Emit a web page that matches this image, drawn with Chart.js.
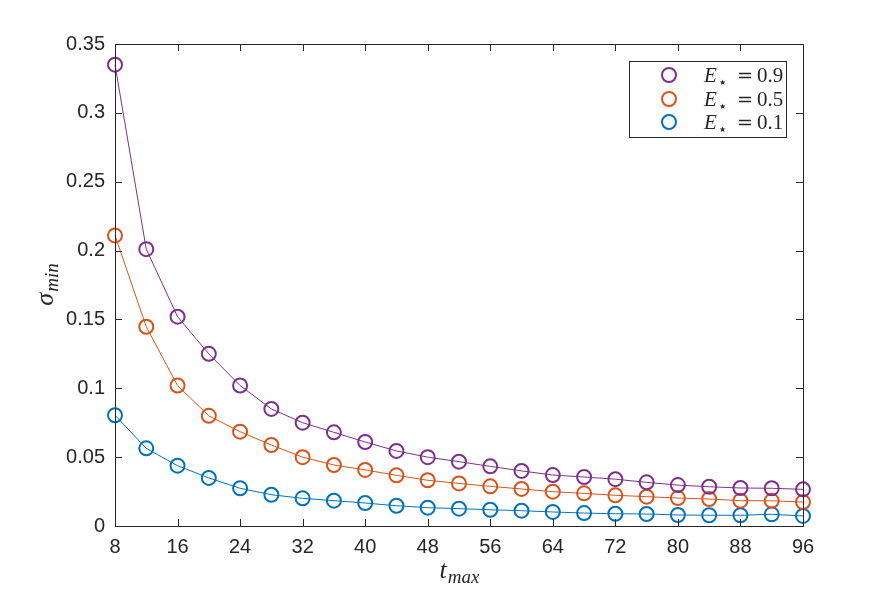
<!DOCTYPE html>
<html>
<head>
<meta charset="utf-8">
<script src="https://cdn.jsdelivr.net/npm/chart.js@4.4.0/dist/chart.umd.min.js"></script>
<style>
body { margin: 0; background: #fff; }
#wrap { width: 886px; height: 590px; }
</style>
</head>
<body>
<div id="wrap"><canvas id="sigmaChart" width="886" height="590"></canvas></div>
<script>
// t_max values on the x axis
var tmax = [8, 12, 16, 20, 24, 28, 32, 36, 40, 44, 48, 52, 56, 60, 64, 68, 72, 76, 80, 84, 88, 92, 96];

// sigma_min for each E_star
var sigmaE09 = [0.335, 0.201, 0.152, 0.125, 0.102, 0.085, 0.075, 0.068, 0.061, 0.0545, 0.050, 0.0467,
  0.0433, 0.040, 0.037, 0.0356, 0.034, 0.0317, 0.0297, 0.0285, 0.0276, 0.0274, 0.0266];
var sigmaE05 = [0.211, 0.1447, 0.102, 0.080, 0.0685, 0.0588, 0.050, 0.0443, 0.0407, 0.0368, 0.0332, 0.0309,
  0.0288, 0.0269, 0.0249, 0.0237, 0.0223, 0.0213, 0.0203, 0.0196, 0.0184, 0.0183, 0.0174];
var sigmaE01 = [0.0804, 0.0564, 0.0438, 0.0349, 0.0274, 0.0227, 0.0201, 0.0184, 0.0167, 0.0147, 0.0133, 0.0126,
  0.0118, 0.0111, 0.0102, 0.0094, 0.0089, 0.0087, 0.0080, 0.0078, 0.0078, 0.0085, 0.0073];

var estarLabels = ['0.9', '0.5', '0.1'];
var xTicks = [8, 16, 24, 32, 40, 48, 56, 64, 72, 80, 88, 96];
var yTicks = [0, 0.05, 0.1, 0.15, 0.2, 0.25, 0.3, 0.35];

// matlab colours
var colors = ['#7E2F8E', '#D95319', '#0072BD'];
var axisColor = '#262626';
var serif = '"Liberation Serif", "DejaVu Serif", serif';

function toPoints(xs, ys) {
  return xs.map(function (x, i) { return { x: x, y: ys[i] }; });
}

function makeDataset(label, values, color) {
  return {
    label: label,
    data: toPoints(tmax, values),
    borderColor: color,
    backgroundColor: 'rgba(0,0,0,0)',
    borderWidth: 1,
    pointRadius: 7,
    pointBorderWidth: 2,
    pointBorderColor: color,
    pointBackgroundColor: 'rgba(0,0,0,0)',
    tension: 0,
    clip: false
  };
}

// box around the axes, inward ticks, axis titles and legend
var matlabLook = {
  id: 'matlabLook',
  afterDraw: function (chart) {
    var ctx = chart.ctx;
    var a = chart.chartArea;
    var xs = chart.scales.x, ys = chart.scales.y;
    var tl = 7;
    ctx.save();
    ctx.strokeStyle = axisColor;
    ctx.lineWidth = 1;
    ctx.strokeRect(a.left + 0.5, a.top + 0.5, a.right - a.left, a.bottom - a.top);
    ctx.beginPath();
    xTicks.forEach(function (v) {
      var px = Math.round(xs.getPixelForValue(v)) + 0.5;
      ctx.moveTo(px, a.bottom); ctx.lineTo(px, a.bottom - tl);
      ctx.moveTo(px, a.top); ctx.lineTo(px, a.top + tl);
    });
    yTicks.forEach(function (v) {
      var py = Math.round(ys.getPixelForValue(v)) + 0.5;
      ctx.moveTo(a.left, py); ctx.lineTo(a.left + tl, py);
      ctx.moveTo(a.right, py); ctx.lineTo(a.right - tl, py);
    });
    ctx.stroke();

    // x title: t_max
    ctx.fillStyle = axisColor;
    ctx.textBaseline = 'alphabetic';
    ctx.textAlign = 'left';
    var cx = (a.left + a.right) / 2;
    ctx.font = 'italic 26px ' + serif;
    var wT = ctx.measureText('t').width;
    ctx.font = 'italic 19px ' + serif;
    var wSub = ctx.measureText('max').width;
    var x0 = cx - (wT + wSub) / 2;
    ctx.font = 'italic 26px ' + serif;
    ctx.fillText('t', x0, 578);
    ctx.font = 'italic 19px ' + serif;
    ctx.fillText('max', x0 + wT + 1, 583);

    // y title: sigma_min (rotated)
    ctx.save();
    ctx.translate(53, (a.top + a.bottom) / 2);
    ctx.rotate(-Math.PI / 2);
    ctx.font = 'italic 26px ' + serif;
    var wS = ctx.measureText('σ').width;
    ctx.font = 'italic 19px ' + serif;
    var wM = ctx.measureText('min').width;
    var y0 = -(wS + wM) / 2;
    ctx.font = 'italic 26px ' + serif;
    ctx.fillText('σ', y0, 0);
    ctx.font = 'italic 19px ' + serif;
    ctx.fillText('min', y0 + wS + 1, 5);
    ctx.restore();

    // legend box
    var lx = 629, ly = 61, lw = 157, lh = 76;
    ctx.fillStyle = '#fff';
    ctx.fillRect(lx, ly, lw, lh);
    ctx.strokeStyle = axisColor;
    ctx.strokeRect(lx + 0.5, ly + 0.5, lw, lh);
    var rows = [75, 99, 122];
    chart.data.datasets.forEach(function (ds, i) {
      var ry = rows[i];
      ctx.beginPath();
      ctx.strokeStyle = ds.borderColor;
      ctx.lineWidth = 2;
      ctx.arc(669, ry, 7, 0, Math.PI * 2);
      ctx.stroke();
      ctx.fillStyle = axisColor;
      ctx.textBaseline = 'alphabetic';
      ctx.font = 'italic 21px ' + serif;
      ctx.fillText('E', 704, ry + 7);
      ctx.font = '8px "DejaVu Sans", sans-serif';
      ctx.fillText('★', 719, ry + 10);
      ctx.font = '19px "DejaVu Serif", serif';
      ctx.fillText('=', 737, ry + 7);
      ctx.font = '21px ' + serif;
      ctx.fillText(ds.label, 757, ry + 7);
    });
    ctx.restore();
  }
};

function BuildChart() {
  var ctx = document.getElementById('sigmaChart').getContext('2d');
  Chart.defaults.font.family = '"Liberation Sans", Arial, sans-serif';
  Chart.defaults.font.size = 20;
  Chart.defaults.color = axisColor;
  var chart = new Chart(ctx, {
    type: 'line',
    data: {
      datasets: [
        makeDataset(estarLabels[0], sigmaE09, colors[0]),
        makeDataset(estarLabels[1], sigmaE05, colors[1]),
        makeDataset(estarLabels[2], sigmaE01, colors[2])
      ]
    },
    options: {
      responsive: false,
      animation: false,
      devicePixelRatio: 1,
      layout: { padding: { top: 44, right: 83, left: 0, bottom: 0 } },
      plugins: {
        legend: { display: false },
        tooltip: { enabled: false }
      },
      scales: {
        x: {
          type: 'linear',
          min: 8,
          max: 96,
          grid: { display: false, drawTicks: false },
          border: { display: false },
          afterFit: function (scale) { scale.height = 64; },
          afterBuildTicks: function (scale) {
            scale.ticks = xTicks.map(function (v) { return { value: v }; });
          },
          ticks: { padding: 9, maxRotation: 0, autoSkip: false }
        },
        y: {
          type: 'linear',
          min: 0,
          max: 0.35,
          grid: { display: false, drawTicks: false },
          border: { display: false },
          afterFit: function (scale) { scale.width = 115; },
          afterBuildTicks: function (scale) {
            scale.ticks = yTicks.map(function (v) { return { value: v }; });
          },
          ticks: {
            padding: 10,
            autoSkip: false,
            callback: function (v) { return String(Number(v.toFixed(2))); }
          }
        }
      }
    },
    plugins: [matlabLook]
  });
  return chart;
}

BuildChart();
</script>
</body>
</html>
